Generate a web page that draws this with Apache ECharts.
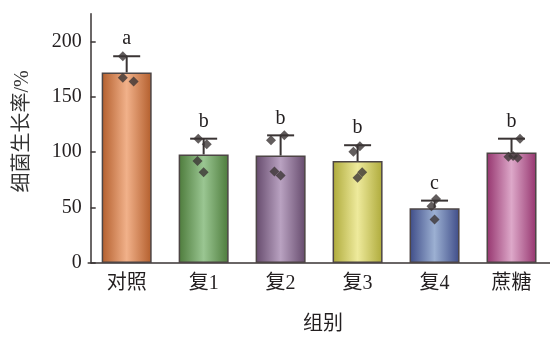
<!DOCTYPE html>
<html>
<head>
<meta charset="utf-8">
<script src="https://cdn.jsdelivr.net/npm/echarts@6/dist/echarts.min.js"></script>
<style>html,body{margin:0;padding:0;background:#fff}#c{width:550px;height:340px}</style>
</head>
<body>
<div id="c"></div>
<script>
var categories = ['对照', '复1', '复2', '复3', '复4', '蔗糖'];
var meanValues = [172, 98, 97, 92, 49.5, 99.7];
var upperValues = [186.6, 112.2, 115.2, 106.3, 56.3, 112.2];
var letters = ['a', 'b', 'b', 'b', 'c', 'b'];
var yTicks = [0, 50, 100, 150, 200];
// individual replicate points: group index, horizontal jitter (in category units), value
var pointGroup  = [0, 0, 0,   1, 1, 1, 1,   2, 2, 2, 2,   3, 3, 3, 3,   4, 4, 4,   5, 5, 5, 5];
var pointJitter = [-0.05, -0.05, 0.09,  -0.07, 0.04, -0.08, 0.0,  -0.125, 0.048, -0.08, 0.0,  0.03, -0.055, 0.06, 0.0,  0.02, -0.04, 0.0,  0.11, -0.04, 0.02, 0.08];
var pointValue  = [186.6, 167.3, 163.8,  112.2, 107.1, 92, 81.9,  110.7, 115.2, 82.5, 78.9,  105.4, 100.4, 81.9, 77,  57.8, 51.2, 39.3,  112.2, 96, 96.5, 95];

var edgeColors = ['#b35e2c', '#4d7b3b', '#654a6c', '#aeaa3a', '#3e4c88', '#95346e'];
var midColors  = ['#f1b18a', '#9ac692', '#b9a2c1', '#eeea9c', '#9cb0d2', '#dda8c9'];

var FONT = '"Liberation Serif", "Noto Sans CJK SC", serif';
var TXT = '#231f20';
var AX = '#3a3434';

var chart = echarts.init(document.getElementById('c'), null, {renderer: 'canvas'});

var barData = meanValues.map(function (v, i) {
  return {
    value: v,
    itemStyle: {
      color: new echarts.graphic.LinearGradient(0, 0, 1, 0, [
        {offset: 0, color: edgeColors[i]},
        {offset: 0.5, color: midColors[i]},
        {offset: 1, color: edgeColors[i]}
      ])
    }
  };
});

var errData = meanValues.map(function (v, i) { return [i, v, upperValues[i]]; });
var pts = pointValue.map(function (v, k) { return [pointGroup[k] + pointJitter[k], v]; });

chart.setOption({
  animation: false,
  backgroundColor: '#fff',
  grid: {left: 88.2, top: 13.7, width: 466, height: 252, containLabel: false},
  xAxis: [{
    type: 'category',
    data: categories,
    boundaryGap: true,
    axisLine: {onZero: false, lineStyle: {color: AX, width: 1.5}},
    axisTick: {show: false},
    axisLabel: {color: TXT, fontFamily: FONT, fontSize: 20, margin: 11},
    name: '组别',
    nameLocation: 'middle',
    nameGap: 52,
    nameTextStyle: {color: TXT, fontFamily: FONT, fontSize: 20, padding: [0, 0, 0, 8]}
  }, {
    type: 'value',
    min: -0.5,
    max: 5.5,
    show: false,
    axisLine: {show: false, onZero: false},
    splitLine: {show: false}
  }],
  yAxis: {
    type: 'value',
    min: 0,
    max: 225,
    interval: 50,
    offset: -2.5,
    splitLine: {show: false},
    axisLine: {show: true, onZero: false, lineStyle: {color: AX, width: 1.5}},
    axisTick: {show: true, inside: true, length: 5, lineStyle: {color: AX, width: 1.5}, customValues: yTicks},
    axisLabel: {color: TXT, fontFamily: FONT, fontSize: 20, margin: 9, customValues: yTicks},
    name: '细菌生长率/%',
    nameLocation: 'middle',
    nameGap: 58,
    nameTextStyle: {color: '#333', fontFamily: FONT, fontSize: 20, padding: [0, 0, 0, 14]}
  },
  series: [{
    type: 'bar',
    data: barData,
    barWidth: 50,
    itemStyle: {borderColor: '#4d4545', borderWidth: 1.5},
    z: 2
  }, {
    type: 'custom',
    xAxisIndex: 0,
    yAxisIndex: 0,
    data: errData,
    encode: {x: 0, y: [1, 2]},
    z: 3,
    renderItem: function (params, api) {
      var i = api.value(0);
      var top = api.coord([i, api.value(1)]);
      var cap = api.coord([i, api.value(2)]);
      var hw = 13.5;
      return {
        type: 'group',
        children: [{
          type: 'line',
          shape: {x1: top[0], y1: top[1], x2: cap[0], y2: cap[1]},
          style: {stroke: AX, lineWidth: 2}
        }, {
          type: 'line',
          shape: {x1: cap[0] - hw, y1: cap[1], x2: cap[0] + hw, y2: cap[1]},
          style: {stroke: AX, lineWidth: 2}
        }, {
          type: 'text',
          x: cap[0],
          y: cap[1] - 7,
          style: {
            text: letters[params.dataIndex],
            align: 'center', verticalAlign: 'bottom',
            font: '20px "Liberation Serif", serif', fill: TXT
          }
        }]
      };
    }
  }, {
    type: 'scatter',
    xAxisIndex: 1,
    data: pts,
    symbol: 'diamond',
    symbolSize: 10,
    itemStyle: {color: '#3b3535'},
    z: 4
  }]
});
</script>
</body>
</html>
